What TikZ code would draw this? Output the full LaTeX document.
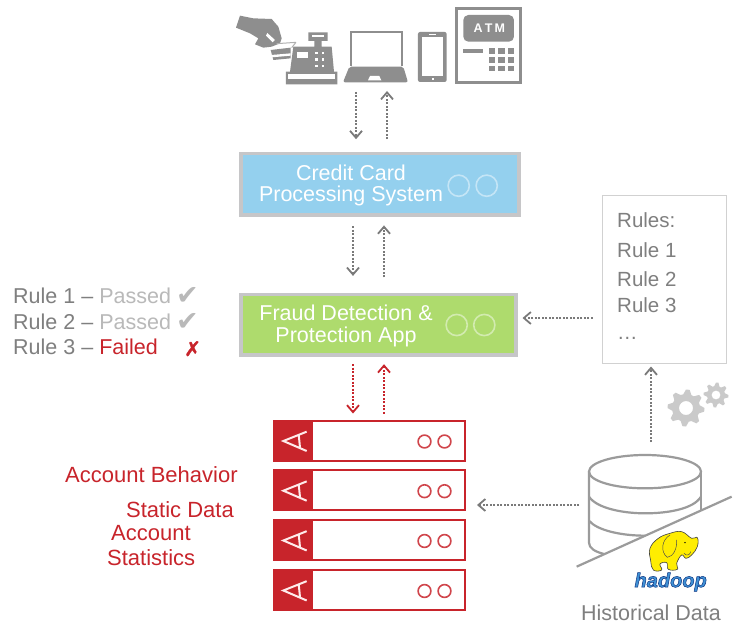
\documentclass[tikz,border=0pt]{standalone}
\usepackage{fontspec}
\setmainfont{Liberation Sans}
\newfontfamily\symfont{DejaVu Sans}
\newfontfamily\hadfont{Liberation Sans}
\usetikzlibrary{arrows.meta}
\definecolor{icongray}{HTML}{8E8E8E}
\definecolor{txtgray}{HTML}{7F7F7F}
\definecolor{passgray}{HTML}{B9B9B9}
\definecolor{arrgray}{HTML}{7A7A7A}
\definecolor{rackred}{HTML}{C8242B}
\definecolor{ccblue}{HTML}{94D0EE}
\definecolor{fraudgreen}{HTML}{AEDB6D}
\definecolor{boxedge}{HTML}{C6C6C8}
\definecolor{dbgray}{HTML}{9B9B9B}
\definecolor{geargray}{HTML}{CACACA}
\tikzset{
  flow/.style={draw=arrgray,line width=2pt,dash pattern=on 2pt off 1.5pt,
    -{Straight Barb[length=7pt,width=12pt,line width=1.8pt,color=arrgray]}},
  flowred/.style={flow,draw=rackred,-{Straight Barb[length=7pt,width=12pt,line width=1.8pt,color=rackred]}},
  procbox/.style={draw=boxedge,line width=3.5pt,inner sep=0pt,outer sep=0pt,anchor=north west},
  holes/.style={line width=1.6pt},
  boxtext/.style={text=white,font=\fontsize{21.5}{24.3}\selectfont,align=center,inner sep=0pt},
  lefttext/.style={anchor=base west,inner sep=0pt,font=\fontsize{22}{24}\selectfont},
  redtext/.style={lefttext,text=rackred},
  ruletext/.style={lefttext,text=txtgray,font=\fontsize{20.5}{24}\selectfont},
  restext/.style={lefttext,text=txtgray,font=\fontsize{21.5}{24}\selectfont},
  rackbox/.style={draw=rackred,line width=2pt,inner sep=0pt,outer sep=0pt,anchor=north west,minimum width=191pt,minimum height=40pt,fill=white},
  spot/.style={inner sep=0pt,outer sep=0pt,minimum width=#1,minimum height=1pt},
}
\newcommand{\rackrow}[2]{%
  \node[rackbox] (#1) at (274,#2) {};
  \fill[rackred] (273,#2-1) rectangle (313,#2+41);
  \begin{scope}[shift={(260,#2-10.5)},x=0.3333pt,y=-0.3333pt]
    \draw[white!92!red,line width=2pt,line join=miter] (140,65) -- (70,93) -- (140,123) (116,72) -- (120,113);
  \end{scope}
  \draw[rackred!85,line width=1.6pt] (424.5,#2+21) circle (6.4pt) (444.5,#2+21) circle (6.4pt);
}
\newcommand{\gearshape}[5]{% x y rout rin teeth
  \fill[geargray,even odd rule]
    plot[samples=#5*4+1,domain=0:360,variable=\t] ({#1+((mod(round(\t/360*#5*4),4)<2)?#3:#4)*cos(\t)},{#2+((mod(round(\t/360*#5*4),4)<2)?#3:#4)*sin(\t)}) -- cycle
    (#1,#2) circle ({0.5*#4*1pt});
}
\begin{document}
\begin{tikzpicture}[x=1pt,y=-1pt]
\useasboundingbox (0,0) rectangle (735,624);
\fill[white] (0,0) rectangle (735,624);

% ---------- hand and register (coordinates in 3x crop space)
\begin{scope}[shift={(230,5)},x=0.3333pt,y=-0.3333pt]
  \fill[icongray] (18,68) -- (30,32) -- (70,40) -- (125,42) -- (145,65) -- (155,100) -- (150,115) -- (125,125) -- (100,128) -- (75,118) -- (85,100) -- (60,85) -- cycle;
  \fill[white] (112,84) -- (135,105) -- (128,112) -- (108,92) -- cycle;
  % card
  \fill[icongray] (122,135) -- (182,128) -- (182,160) -- (130,165) -- cycle;
  \fill[white] (124,150) -- (182,145) -- (182,152) -- (126,157) -- cycle;
  \draw[icongray!70,line width=1pt] (140,116) -- (198,112) (198,112) -- (185,128);
  % register
  \fill[icongray] (168,238) -- (168,200) -- (180,200) -- (190,125) -- (253,125) -- (253,108) -- (235,108) -- (235,82) -- (293,82) -- (293,108) -- (275,108) -- (275,125) -- (305,125) -- (312,200) -- (322,200) -- (322,238) -- cycle;
  \fill[white] (175,208) rectangle (315,222);
  \fill[white] (200,140) rectangle (235,160);
  \fill[white] (245,91) rectangle (283,97);
  \foreach \yy in {140,160,180} \foreach \xx in {255,275}
    \fill[white] (\xx,\yy) rectangle ++(8,7);
\end{scope}

% ---------- other icons
\begin{scope}[shift={(220,0)},x=0.3333pt,y=-0.3333pt]
  % laptop
  \node[spot=64pt] (laptop) at (469,246) {};
  \draw[icongray,line width=2.2pt] (393,198) -- (393,96) -- (545,96) -- (545,198);
  \fill[icongray,rounded corners=2pt] (388,200) -- (550,200) -- (564,247) -- (369,247) -- cycle;
  \fill[white] (444,241) -- (450,228) -- (478,228) -- (484,241) -- cycle;
  % phone
  \fill[icongray,rounded corners=2pt] (594,96) rectangle (680,246);
  \fill[white] (605,112) rectangle (670,228);
  \fill[white] (637,234) rectangle (641,239);
  \fill[white] (628,103) rectangle (648,106);
  % ATM
  \draw[icongray,line width=2.4pt,fill=white] (710,26) rectangle (902,248);
  \fill[icongray,rounded corners=5pt] (730,45) rectangle (882,125);
  \node[text=white,inner sep=0pt,font=\bfseries\fontsize{12.5}{14}\selectfont] (atmlabel) at (808,86) {A\,T\,M};
  \fill[icongray] (730,148) rectangle (788,158);
  \foreach \yy in {144,171,198} \foreach \xx in {806,835,864}
    \fill[icongray] (\xx,\yy) rectangle ++(19,\ifnum\yy=198 14\else 18\fi);
\end{scope}

% ---------- Credit card box
\node[procbox,fill=ccblue,minimum width=278pt,minimum height=61.2pt] (cc) at (241.2,153.7) {};
\node[boxtext] (cctext) at (351,185.7) {Credit Card\\[-3pt]Processing System};
\draw[holes,draw=white!45!ccblue] (458.7,185.7) circle (10.6pt) (486.7,185.7) circle (10.6pt);

% ---------- Fraud box
\node[procbox,fill=fraudgreen,minimum width=274.8pt,minimum height=60.8pt] (fraud) at (241.2,294.4) {};
\node[boxtext] (fraudtext) at (346,326) {Fraud Detection \&\\[-3pt]Protection App};
\draw[holes,draw=white!45!fraudgreen] (456.7,325) circle (10.6pt) (484.3,325) circle (10.6pt);

% ---------- Rules box
\node[draw=black!18,line width=1pt,fill=white,inner sep=0pt,outer sep=0pt,anchor=north west,minimum width=124pt,minimum height=168pt] (rules) at (602,195) {};
\node[ruletext] (r0) at (617,227) {Rules:};
\node[ruletext] (r1) at (617,257) {Rule 1};
\node[ruletext] (r2) at (617,286) {Rule 2};
\node[ruletext] (r3) at (617,312) {Rule 3};
\node[ruletext] (r4) at (617,339) {\ldots};

% ---------- rule results
\node[restext] (res1) at (13,303) {Rule 1 -- \textcolor{passgray}{Passed}};
\node[restext] (res2) at (13,329) {Rule 2 -- \textcolor{passgray}{Passed}};
\node[restext] (res3) at (13,354) {Rule 3 -- \textcolor{rackred}{Failed}};
\node[lefttext,text=passgray,font=\symfont\fontsize{27}{28}\selectfont] (chk1) at (176,304) {✔};
\node[lefttext,text=passgray,font=\symfont\fontsize{27}{28}\selectfont] (chk2) at (176,330) {✔};
\node[lefttext,text=rackred,font=\symfont\addfontfeature{FakeBold=1.5}\fontsize{20}{22}\selectfont] (crs) at (184,356) {✗};

% ---------- rack
\rackrow{rackA}{420.5}
\rackrow{rackB}{470.2}
\rackrow{rackC}{520}
\rackrow{rackD}{570}

\node[redtext] (lb1) at (65,482) {Account Behavior};
\node[redtext] (lb2) at (126,517) {Static Data};
\node[redtext] (lb3) at (111,540) {Account};
\node[redtext] (lb4) at (107,565) {Statistics};

% ---------- database
\begin{scope}[shift={(560,370)},x=0.3333pt,y=-0.3333pt]
  \draw[dbgray,line width=2.2pt] (255,305) ellipse [x radius=168,y radius=50];
  \draw[dbgray,line width=2.2pt] (87,305) -- (87,518) .. controls (87,535) and (105,545) .. (132,552);
  \draw[dbgray,line width=2.2pt] (423,305) -- (423,420);
  \draw[dbgray,line width=2.2pt] (87,380) .. controls (110,415) and (190,430) .. (255,430) .. controls (320,430) and (400,418) .. (423,380);
  \draw[dbgray,line width=2.2pt] (87,452) .. controls (110,480) and (180,497) .. (255,497);
  \draw[dbgray,line width=2.2pt] (50,590) -- (515,380);
\end{scope}
\node[inner sep=0pt,outer sep=0pt,anchor=north west,minimum width=112pt,minimum height=99pt] (db) at (589,455) {};

% ---------- gears
\gearshape{686}{408}{18.5}{14}{8}
\gearshape{716}{395}{12.5}{9}{8}

% ---------- hadoop elephant
\begin{scope}[shift={(560,370)},x=0.3333pt,y=-0.3333pt]
  \draw[black!75,line width=0.6pt,fill=yellow!95!orange]
    plot[smooth cycle,tension=0.7] coordinates {(272,572) (270,535) (295,505) (330,490) (365,485) (395,505) (412,503) (412,530) (395,555) (378,565) (365,555) (350,580) (352,598) (325,598) (320,578) (300,582) (305,600) (280,600)};
  \draw[black!70,line width=0.5pt] (330,495) .. controls (305,510) and (300,545) .. (322,562) .. controls (340,560) and (352,535) .. (350,510);
  \fill[black] (375,518) circle (2.5);
  \draw[black!70,line width=0.5pt] (372,550) .. controls (380,560) and (390,555) .. (392,545);
  \node[inner sep=0pt,text=black,font=\hadfont\bfseries\itshape\fontsize{20}{22}\selectfont] (hadoop) at (332,636) {\textcolor{white!30!cyan!70!blue}{\special{pdf:code 2 Tr 0.5 w 0.05 0.2 0.5 RG}hadoop\special{pdf:code 0 Tr 0 w 0 G}}};
\end{scope}
\node[inner sep=0pt,text=txtgray,font=\fontsize{21.5}{24}\selectfont] (hist) at (651,613) {Historical Data};

% ---------- connectors
\coordinate (xa) at (356,0);
\coordinate (xb) at (387,0);
\coordinate (xc) at (353,0);
\coordinate (xd) at (384,0);
\coordinate (xe) at (651,0);
\coordinate (ya) at (0,318);
\coordinate (yb) at (0,505);
\draw[flow,shorten <=9.5pt,shorten >=14.5pt] (laptop.south -| xa) -- (cc.north -| xa);
\draw[flow,shorten <=14.5pt,shorten >=8.5pt] (cc.north -| xb) -- (laptop.south -| xb);
\draw[flow,shorten <=11.5pt,shorten >=18.5pt] (cc.south -| xc) -- (fraud.north -| xc);
\draw[flow,shorten <=17pt,shorten >=10.5pt] (fraud.north -| xd) -- (cc.south -| xd);
\draw[flowred,shorten <=9pt,shorten >=7pt] (fraud.south -| xc) -- (rackA.north -| xc);
\draw[flowred,shorten <=7pt,shorten >=9pt] (rackA.north -| xd) -- (fraud.south -| xd);
\draw[flow,shorten <=9.5pt,shorten >=6.5pt] (rules.west |- ya) -- (fraud.east |- ya);
\draw[flow,shorten <=13pt,shorten >=3.5pt] (db.north -| xe) -- (rules.south -| xe);
\draw[flow,shorten <=10pt,shorten >=12pt] (db.west |- yb) -- (rackB.east |- yb);
\end{tikzpicture}
\end{document}
